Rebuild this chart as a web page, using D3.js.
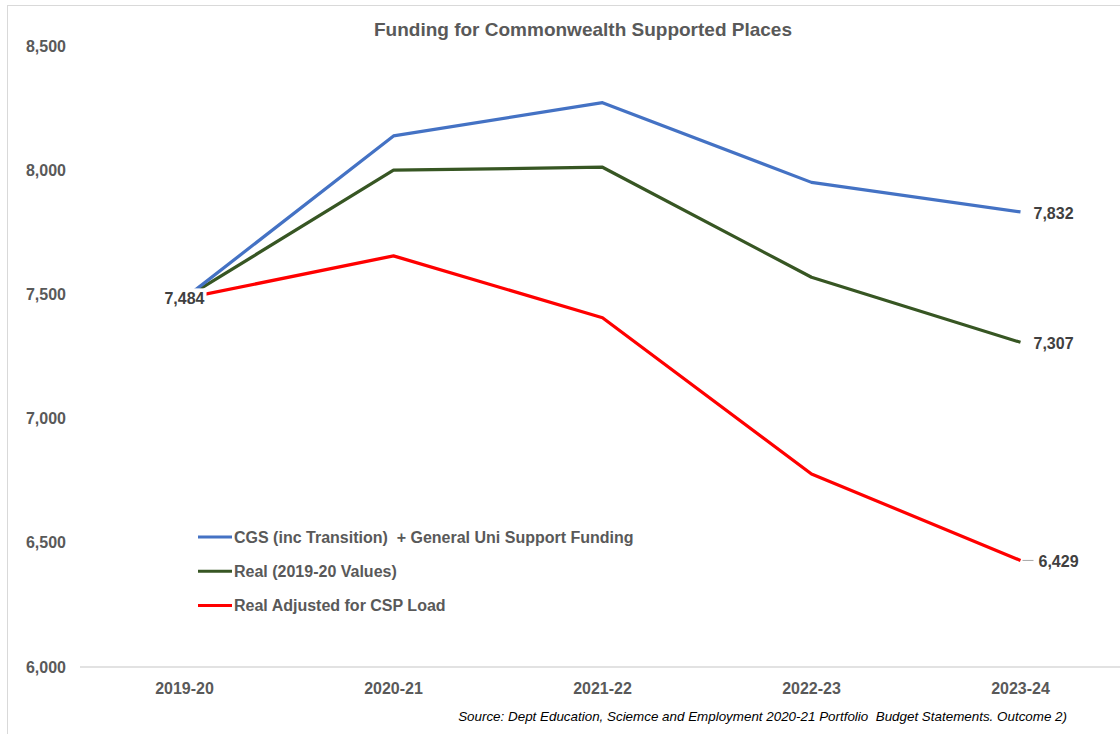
<!DOCTYPE html>
<html>
<head>
<meta charset="utf-8">
<script src="https://cdn.jsdelivr.net/npm/d3@7"></script>
<style>
  body { margin: 0; background: #fff; }
  svg { display: block; font-family: "Liberation Sans", Arial, sans-serif; }
</style>
</head>
<body>
<svg id="chart" width="1120" height="734"></svg>
<script>
var years = ["2019-20", "2020-21", "2021-22", "2022-23", "2023-24"];
var cgs = [7484, 8138, 8272, 7951, 7832];
var real = [7484, 8000, 8012, 7569, 7307];
var realAdj = [7484, 7655, 7406, 6777, 6429];
var yTicks = [6000, 6500, 7000, 7500, 8000, 8500];

var seriesNames = [
    "CGS (inc Transition)  + General Uni Support Funding",
    "Real (2019-20 Values)",
    "Real Adjusted for CSP Load"
];
var colours = ["#4472C4", "#375623", "#FF0000"];
var allSeries = [cgs, real, realAdj];

var svg = d3.select("#chart");

// chart border (cut off at right and bottom like the reference)
svg.append("rect")
    .attr("x", 7.5).attr("y", 5.5)
    .attr("width", 1300).attr("height", 900)
    .attr("fill", "none")
    .attr("stroke", "#D9D9D9");

var x = d3.scaleBand().domain(years).range([80, 1125]).padding(0);
var y = d3.scaleLinear().domain([6000, 8500]).range([667, 46]);

var cx = d => x(d) + x.bandwidth() / 2;

svg.append("text")
    .attr("x", 583).attr("y", 36)
    .attr("text-anchor", "middle")
    .attr("font-size", 19).attr("font-weight", "bold")
    .attr("fill", "#595959")
    .text("Funding for Commonwealth Supported Places");

// y tick labels
svg.selectAll(".ytick")
    .data(yTicks)
    .enter().append("text")
    .attr("x", 66)
    .attr("y", d => y(d))
    .attr("dy", "0.35em")
    .attr("text-anchor", "end")
    .attr("font-size", 16).attr("font-weight", "bold")
    .attr("fill", "#595959")
    .text(d => d3.format(",")(d));

// baseline
svg.append("line")
    .attr("x1", 80).attr("x2", 1125)
    .attr("y1", y(6000)).attr("y2", y(6000))
    .attr("stroke", "#D9D9D9").attr("stroke-width", 1.5);

svg.selectAll(".xtick")
    .data(years)
    .enter().append("text")
    .attr("x", d => cx(d))
    .attr("y", 694)
    .attr("text-anchor", "middle")
    .attr("font-size", 16).attr("font-weight", "bold")
    .attr("fill", "#595959")
    .text(d => d);

var line = d3.line()
    .x((d, i) => cx(years[i]))
    .y(d => y(d));

// draw bottom series first so blue sits on top
allSeries.slice().reverse().forEach((s, k) => {
    var idx = allSeries.length - 1 - k;
    svg.append("path")
        .attr("d", line(s))
        .attr("fill", "none")
        .attr("stroke", colours[idx])
        .attr("stroke-width", 3.2)
        .attr("stroke-linejoin", "round");
});

// start label with white box
var first = years[0];
var lab = svg.append("g");
lab.append("rect")
    .attr("x", cx(first) - 22).attr("y", y(cgs[0]) - 10)
    .attr("width", 44).attr("height", 20)
    .attr("fill", "#fff");
lab.append("text")
    .attr("x", cx(first)).attr("y", y(cgs[0]))
    .attr("dy", "0.35em")
    .attr("text-anchor", "middle")
    .attr("font-size", 16).attr("font-weight", "bold")
    .attr("fill", "#404040")
    .text(d3.format(",")(cgs[0]));

// end labels
var last = years[years.length - 1];
var endLabels = [
    {v: cgs[4], off: 13, leader: false},
    {v: real[4], off: 13, leader: false},
    {v: realAdj[4], off: 18, leader: true}
];
endLabels.forEach(l => {
    if (l.leader) {
        svg.append("line")
            .attr("x1", cx(last) + 2).attr("x2", cx(last) + 13)
            .attr("y1", y(l.v)).attr("y2", y(l.v))
            .attr("stroke", "#A6A6A6").attr("stroke-width", 1);
    }
    svg.append("text")
        .attr("x", cx(last) + l.off)
        .attr("y", y(l.v) + 1)
        .attr("dy", "0.35em")
        .attr("font-size", 16).attr("font-weight", "bold")
        .attr("fill", "#404040")
        .text(d3.format(",")(l.v));
});

// legend
var legend = svg.append("g");
seriesNames.forEach((n, i) => {
    var ly = 537 + i * 34.2;
    legend.append("line")
        .attr("x1", 198).attr("x2", 232)
        .attr("y1", ly).attr("y2", ly)
        .attr("stroke", colours[i]).attr("stroke-width", 3);
    legend.append("text")
        .attr("x", 234).attr("y", ly)
        .attr("dy", "0.35em")
        .attr("font-size", 16).attr("font-weight", "bold")
        .attr("fill", "#595959")
        .style("white-space", "pre")
        .text(n);
});

svg.append("text")
    .attr("x", 1067).attr("y", 721)
    .attr("text-anchor", "end")
    .attr("font-size", 13.4).attr("font-style", "italic")
    .attr("fill", "#000")
    .style("white-space", "pre")
    .text("Source: Dept Education, Sciemce and Employment 2020-21 Portfolio  Budget Statements. Outcome 2)");
</script>
</body>
</html>
